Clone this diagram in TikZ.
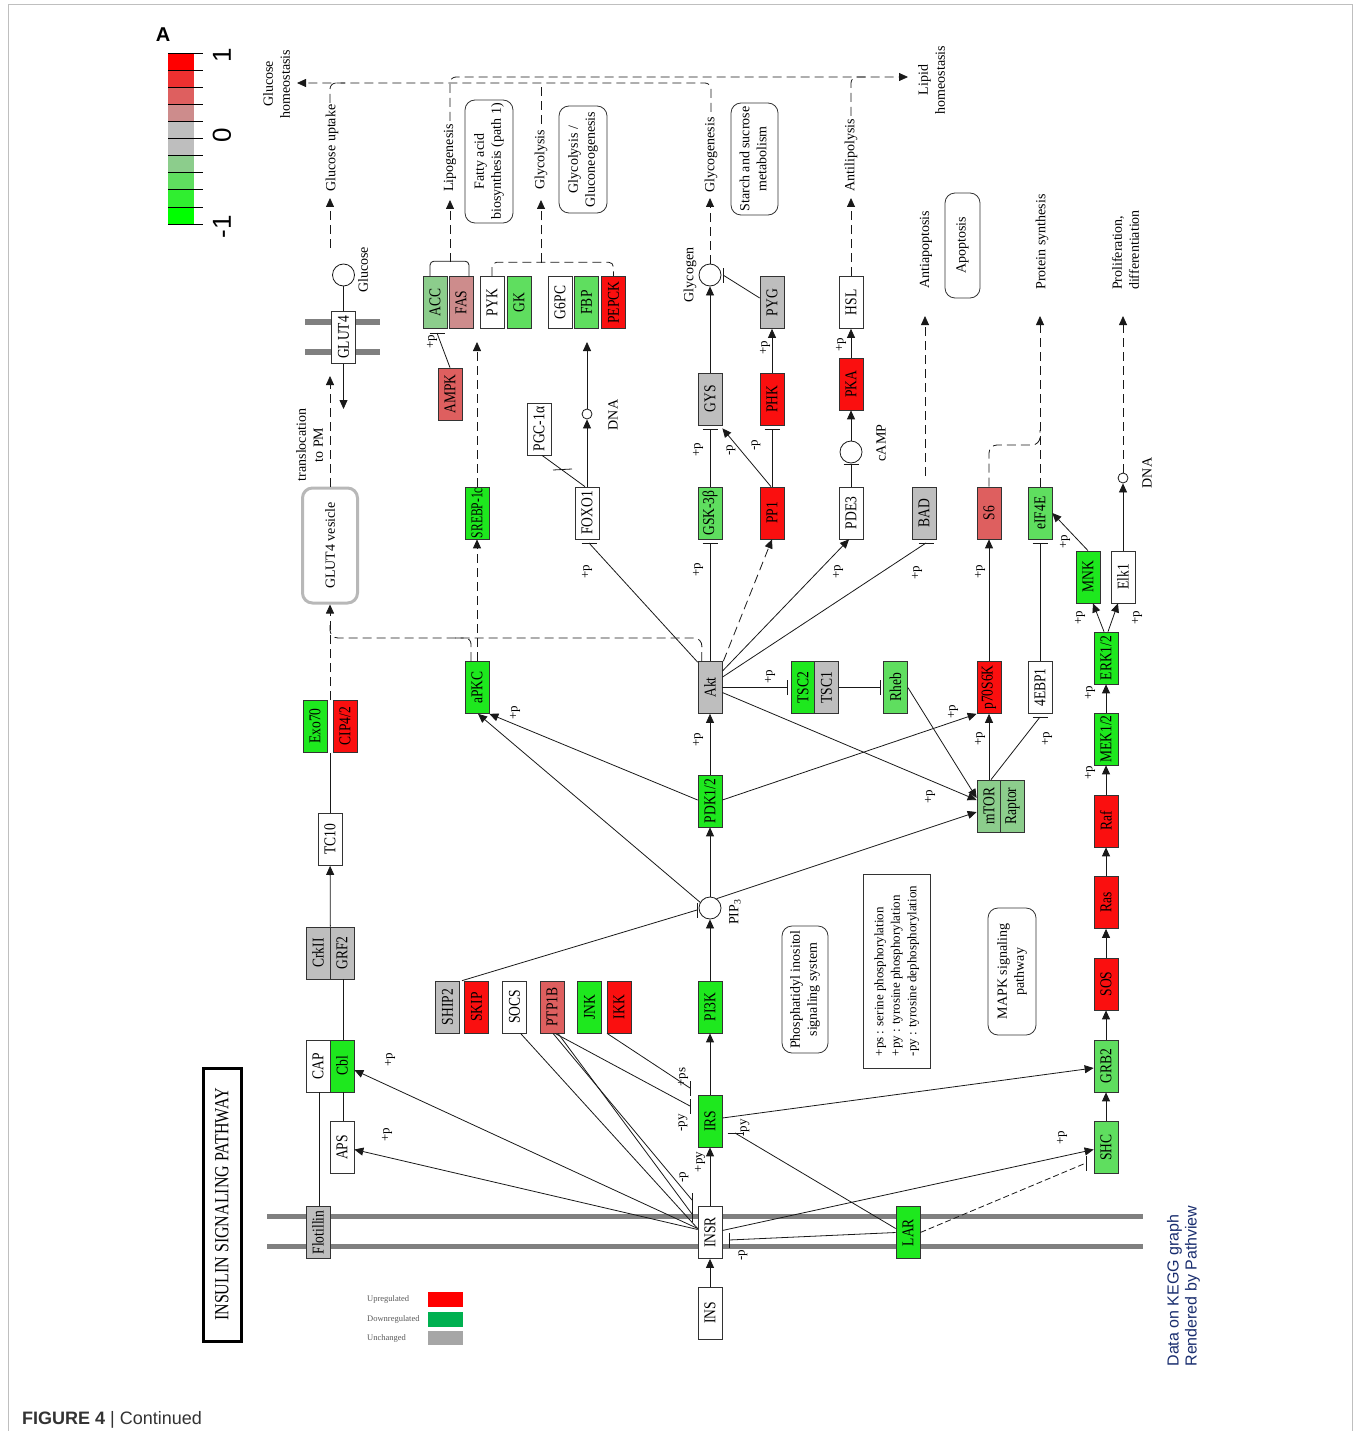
\documentclass[tikz,border=0pt]{standalone}
\usepackage{fontspec}
\usepackage{graphicx}
\setmainfont{Liberation Serif}
\newfontfamily\sansf{Liberation Sans}
\usetikzlibrary{arrows.meta,calc}
\definecolor{cR}{RGB}{250,15,15}
\definecolor{cPR}{RGB}{222,95,95}
\definecolor{cLP}{RGB}{205,140,140}
\definecolor{cGy}{RGB}{190,190,190}
\definecolor{cG}{RGB}{30,232,30}
\definecolor{cMG}{RGB}{95,222,95}
\definecolor{cLG}{RGB}{140,205,140}
\definecolor{cb0}{RGB}{255,0,0}
\definecolor{cb1}{RGB}{238,48,48}
\definecolor{cb2}{RGB}{222,95,95}
\definecolor{cb3}{RGB}{205,140,140}
\definecolor{cb4}{RGB}{190,190,190}
\definecolor{cb5}{RGB}{190,190,190}
\definecolor{cb6}{RGB}{140,205,140}
\definecolor{cb7}{RGB}{95,222,95}
\definecolor{cb8}{RGB}{48,238,48}
\definecolor{cb9}{RGB}{0,255,0}
\definecolor{lgR}{RGB}{255,0,0}
\definecolor{lgG}{RGB}{0,176,80}
\definecolor{lgY}{RGB}{166,166,166}
\definecolor{kblue}{RGB}{25,45,110}
\newcommand\rotT[1]{\rotatebox{90}{#1}}
\newcommand\bt[1]{\rotatebox{90}{\scalebox{0.82}[1]{#1}}}
\newcommand\rotC[1]{\rotatebox{90}{\begin{tabular}{@{}c@{}}#1\end{tabular}}}
\newcommand\rotL[1]{\rotatebox{90}{\begin{tabular}{@{}l@{}}#1\end{tabular}}}
\newcommand\bxf{\fontsize{16.5}{16.5}\selectfont}
\newcommand\lbf{\fontsize{14}{17}\selectfont}
\newcommand\ppf{\fontsize{13}{13}\selectfont}
\newcommand\tbarH[1]{\draw[ln] ([xshift=-7.5pt]#1) -- ([xshift=7.5pt]#1);}
\newcommand\tbarV[1]{\draw[ln] ([yshift=-7.5pt]#1) -- ([yshift=7.5pt]#1);}
\begin{document}
\begin{tikzpicture}[x=1pt,y=-1pt,
  gb/.style={draw=black!80, line width=0.7pt, minimum width=24pt, minimum height=52pt, inner sep=0pt, font=\bxf},
  ln/.style={line width=0.8pt, draw=black!90},
  act/.style={ln, -{Triangle[length=9pt,width=8pt]}},
  dsh/.style={dash pattern=on 9pt off 5pt},
  cir/.style={draw=black!90, line width=0.8pt, circle, minimum size=22pt, inner sep=0pt},
  dnac/.style={draw=black!90, line width=0.8pt, circle, minimum size=10pt, inner sep=0pt},
  lb/.style={inner sep=0pt, font=\lbf},
  pp/.style={inner sep=0pt, font=\ppf},
  rb/.style={draw=black!80, line width=0.8pt, rounded corners=10pt, inner sep=0pt, font=\lbf},
  memb/.style={line width=6pt, draw=black!50},
]
\useasboundingbox (0,0) rectangle (1356,1431);
\draw[black!25, line width=1pt] (8,1431) -- (8,5) -- (1352,5) -- (1352,1431);

% ---------- colour bar ----------
\foreach \c [count=\i from 0] in {cb0,cb1,cb2,cb3,cb4,cb5,cb6,cb7,cb8,cb9}
  \fill[\c] (168,{53+17.1*\i}) rectangle (194,{70.1+17.1*\i});
\foreach \i in {0,...,10} \draw[line width=0.6pt] (168,{53+17.1*\i}) -- (203,{53+17.1*\i});
\node[inner sep=0pt, font=\sansf\bfseries\fontsize{20}{20}\selectfont] (lblA) at (163,35) {A};
\node[inner sep=0pt, font=\sansf\fontsize{26}{26}\selectfont] (cbone) at (222,55) {\rotT{1}};
\node[inner sep=0pt, font=\sansf\fontsize{26}{26}\selectfont] (cbzero) at (222,135) {\rotT{0}};
\node[inner sep=0pt, font=\sansf\fontsize{26}{26}\selectfont] (cbmone) at (222,227) {\rotT{-1}};

% ---------- membranes ----------
\draw[memb] (305,322) -- (380,322);
\draw[memb] (305,352) -- (380,352);
\draw[memb, line width=5pt] (267,1216) -- (1143,1216);
\draw[memb, line width=5pt] (267,1246) -- (1143,1246);

% ---------- gene boxes ----------
\node[gb,fill=cLG] (acc) at (435,302.5) {\bt{ACC}};
\node[gb,fill=cLP] (fas) at (461,302.5) {\bt{FAS}};
\node[gb,fill=white] (pyk) at (492,302.5) {\bt{PYK}};
\node[gb,fill=cMG] (gk) at (519,302.5) {\bt{GK}};
\node[gb,fill=white] (g6pc) at (560,302.5) {\bt{G6PC}};
\node[gb,fill=cMG] (fbp) at (586.5,302.5) {\bt{FBP}};
\node[gb,fill=cR] (pepck) at (613.5,302.5) {\bt{PEPCK}};
\node[gb,fill=cGy] (pyg) at (772,302.5) {\bt{PYG}};
\node[gb,fill=white] (hsl) at (851,302.5) {\bt{HSL}};
\node[gb,fill=white] (glut4) at (343.5,337.5) {\bt{GLUT4}};
\node[gb,fill=cGy] (gys) at (710,399) {\bt{GYS}};
\node[gb,fill=cR] (phk) at (772,399) {\bt{PHK}};
\node[gb,fill=cPR] (ampk) at (450,394) {\bt{AMPK}};
\node[gb,fill=cR] (pka) at (851,384) {\bt{PKA}};
\node[gb,fill=white] (pgc) at (539,429) {\bt{PGC-1α}};
\node[gb,fill=cG] (srebp) at (477,513) {\rotatebox{90}{\scalebox{0.7}[1]{SREBP-1c}}};
\node[gb,fill=white] (foxo1) at (587,513) {\bt{FOXO1}};
\node[gb,fill=cMG] (gsk) at (710,513) {\bt{GSK-3β}};
\node[gb,fill=cR] (pp1) at (772,513) {\bt{PP1}};
\node[gb,fill=white] (pde3) at (851,513) {\bt{PDE3}};
\node[gb,fill=cGy] (bad) at (924,513) {\bt{BAD}};
\node[gb,fill=cPR] (s6) at (989,513) {\bt{S6}};
\node[gb,fill=cMG] (eif4e) at (1040,513) {\bt{eIF4E}};
\node[gb,fill=cG] (mnk) at (1088,577) {\bt{MNK}};
\node[gb,fill=white] (elk1) at (1123,577) {\bt{Elk1}};
\node[gb,fill=cG] (erk) at (1106,658) {\bt{ERK1/2}};
\node[gb,fill=cG] (apkc) at (477,687.5) {\bt{aPKC}};
\node[gb,fill=cGy] (akt) at (710,687.5) {\bt{Akt}};
\node[gb,fill=cG] (tsc2) at (803,687.5) {\bt{TSC2}};
\node[gb,fill=cGy] (tsc1) at (826.5,687.5) {\bt{TSC1}};
\node[gb,fill=cMG] (rheb) at (895.5,687.5) {\bt{Rheb}};
\node[gb,fill=cR] (p70) at (989,687.5) {\bt{p70S6K}};
\node[gb,fill=white] (ebp) at (1040,687.5) {\bt{4EBP1}};
\node[gb,fill=cG] (exo70) at (315,726) {\bt{Exo70}};
\node[gb,fill=cR] (cip) at (345,726) {\bt{CIP4/2}};
\node[gb,fill=cG] (mek) at (1106,739) {\bt{MEK1/2}};
\node[gb,fill=cG] (pdk) at (710,801) {\bt{PDK1/2}};
\node[gb,fill=cLG] (mtor) at (989,806) {\bt{mTOR}};
\node[gb,fill=cLG] (raptor) at (1012.5,806) {\bt{Raptor}};
\node[gb,fill=cR] (raf) at (1106,821) {\bt{Raf}};
\node[gb,fill=white] (tc10) at (330,839.5) {\bt{TC10}};
\node[gb,fill=cR] (ras) at (1106,902.5) {\bt{Ras}};
\node[gb,fill=cGy] (crk) at (318,953) {\bt{CrkII}};
\node[gb,fill=cGy] (grf2) at (342,953) {\bt{GRF2}};
\node[gb,fill=cR] (sos) at (1106,984) {\bt{SOS}};
\node[gb,fill=cGy] (ship2) at (447.5,1007) {\bt{SHIP2}};
\node[gb,fill=cR] (skip) at (476.5,1007) {\bt{SKIP}};
\node[gb,fill=white] (socs) at (514.5,1007) {\bt{SOCS}};
\node[gb,fill=cPR] (ptp) at (552,1007) {\bt{PTP1B}};
\node[gb,fill=cG] (jnk) at (589.5,1007) {\bt{JNK}};
\node[gb,fill=cR] (ikk) at (619,1007) {\bt{IKK}};
\node[gb,fill=cG] (pi3k) at (710,1007) {\bt{PI3K}};
\node[gb,fill=white] (cap) at (318,1066) {\bt{CAP}};
\node[gb,fill=cG] (cbl) at (342,1066) {\bt{Cbl}};
\node[gb,fill=cMG] (grb2) at (1106,1066) {\bt{GRB2}};
\node[gb,fill=cG] (irs) at (710,1121) {\bt{IRS}};
\node[gb,fill=white] (aps) at (342,1147.5) {\bt{APS}};
\node[gb,fill=cMG] (shc) at (1106,1147.5) {\bt{SHC}};
\node[gb,fill=cGy] (flot) at (318,1232.5) {\bt{Flotillin}};
\node[gb,fill=white] (insr) at (710,1232.5) {\bt{INSR}};
\node[gb,fill=cG] (lar) at (908,1232.5) {\bt{LAR}};
\node[gb,fill=white] (ins) at (710,1313) {\bt{INS}};

% ---------- compounds ----------
\node[cir] (glucose) at (343.5,275) {};
\node[cir] (glycogen) at (710,275) {};
\node[cir] (camp) at (851,452) {};
\node[cir] (pip3) at (710,908) {};
\node[dnac] (dna1) at (587,414) {};
\node[dnac] (dna2) at (1123,478) {};

% ---------- map / info boxes ----------
\node[rb, minimum width=48pt, minimum height=123pt] (fab) at (489,161.5) {\rotC{Fatty acid\\biosynthesis (path 1)}};
\node[rb, minimum width=48pt, minimum height=107pt] (glyb) at (583,159.5) {\rotC{Glycolysis /\\Gluconeogenesis}};
\node[rb, minimum width=47pt, minimum height=112pt] (starch) at (754.5,159) {\rotC{Starch and sucrose\\metabolism}};
\node[rb, minimum width=35pt, minimum height=105pt] (apop) at (962.5,245.5) {\rotT{Apoptosis}};
\node[rb, minimum width=46pt, minimum height=127pt] (pis) at (805,989.5) {\rotC{Phosphatidyl inositol\\signaling system}};
\node[rb, minimum width=48pt, minimum height=127pt] (mapk) at (1012,971.5) {\rotC{MAPK signaling\\pathway}};
\node[draw=black!80, line width=0.8pt, inner sep=0pt, minimum width=67pt, minimum height=194pt, font=\fontsize{13}{16.5}\selectfont] (key) at (896.5,971) {\rotL{+ps : serine phosphorylation\\+py : tyrosine phosphorylation\\-py : tyrosine dephosphorylation}};
\node[draw=black, line width=3pt, inner sep=0pt, minimum width=38pt, minimum height=273pt, font=\fontsize{20}{20}\selectfont] (title) at (222,1204.5) {\rotatebox{90}{\scalebox{0.8}[1]{INSULIN SIGNALING PATHWAY}}};
\node[draw=black!28, line width=3pt, rounded corners=10pt, minimum width=55pt, minimum height=115pt, inner sep=0pt, font=\lbf] (ves) at (330,545.5) {\rotT{GLUT4 vesicle}};

% ---------- text labels ----------
\node[lb] (lGH) at (278,84) {\rotC{Glucose\\homeostasis}};
\node[lb] (lGupt) at (332,148) {\rotT{Glucose uptake}};
\node[lb] (lLipo) at (450,158) {\rotT{Lipogenesis}};
\node[lb] (lGlyco) at (541,160) {\rotT{Glycolysis}};
\node[lb] (lGlcg) at (711,155) {\rotT{Glycogenesis}};
\node[lb] (lAnti) at (851,155) {\rotT{Antilipolysis}};
\node[lb] (lLipid) at (933,80) {\rotC{Lipid\\homeostasis}};
\node[lb] (lGlucose) at (363,270) {\rotT{Glucose}};
\node[lb] (lGlycogen) at (690,275) {\rotT{Glycogen}};
\node[lb] (lcAMP) at (881,443) {\rotT{cAMP}};
\node[lb] (lDNAa) at (613,415) {\rotT{DNA}};
\node[lb] (lDNAb) at (1147,473) {\rotT{DNA}};
\node[lb] (lAntiap) at (926,250) {\rotT{Antiapoptosis}};
\node[lb] (lProt) at (1042,242) {\rotT{Protein synthesis}};
\node[lb] (lProl) at (1127,250) {\rotL{Proliferation,\\differentiation}};
\node[lb] (lTrans) at (311,445) {\rotC{translocation\\to PM}};
\node[lb] (lPIP) at (735,912) {\rotT{PIP\textsubscript{3}}};

% ---------- +p labels ----------
\node[pp] (q1) at (432,342) {\rotT{+p}};
\node[pp] (q2) at (515,713) {\rotT{+p}};
\node[pp] (q3) at (587,572) {\rotT{+p}};
\node[pp] (q4) at (698,570) {\rotT{+p}};
\node[pp] (q5) at (698,450) {\rotT{+p}};
\node[pp] (q6) at (731,450) {\rotT{-p}};
\node[pp] (q7) at (756,445) {\rotT{-p}};
\node[pp] (q8) at (838,572) {\rotT{+p}};
\node[pp] (q9) at (917,573) {\rotT{+p}};
\node[pp] (q10) at (770,677) {\rotT{+p}};
\node[pp] (q11) at (698,740) {\rotT{+p}};
\node[pp] (q12) at (765,348) {\rotT{+p}};
\node[pp] (q13) at (841,345) {\rotT{+p}};
\node[pp] (q14) at (980,572) {\rotT{+p}};
\node[pp] (q15) at (980,739) {\rotT{+p}};
\node[pp] (q16) at (953,712) {\rotT{+p}};
\node[pp] (q17) at (1047,739) {\rotT{+p}};
\node[pp] (q18) at (1065,542) {\rotT{+p}};
\node[pp] (q19) at (1080,618) {\rotT{+p}};
\node[pp] (q20) at (1137,618) {\rotT{+p}};
\node[pp] (q21) at (1090,693) {\rotT{+p}};
\node[pp] (q22) at (1090,773) {\rotT{+p}};
\node[pp] (q23) at (930,797) {\rotT{+p}};
\node[pp] (q24) at (390,1060) {\rotT{+p}};
\node[pp] (q25) at (387,1135) {\rotT{+p}};
\node[pp] (q26) at (1062,1138) {\rotT{+p}};
\node[pp] (q27) at (700,1162) {\rotT{+py}};
\node[pp] (q28) at (684,1177) {\rotT{-p}};
\node[pp] (q29) at (683,1123) {\rotT{-py}};
\node[pp] (q30) at (683,1077) {\rotT{+ps}};
\node[pp] (q31) at (745,1128) {\rotT{-py}};
\node[pp] (q32) at (743,1255) {\rotT{-p}};

% ---------- legend ----------
\node[anchor=west, inner sep=0pt, text=black!65, font=\fontsize{8.5}{9}\selectfont] (lgu) at (367,1299) {Upregulated};
\node[anchor=west, inner sep=0pt, text=black!65, font=\fontsize{8.5}{9}\selectfont] (lgd) at (367,1319) {Downregulated};
\node[anchor=west, inner sep=0pt, text=black!65, font=\fontsize{8.5}{9}\selectfont] (lgn) at (367,1338) {Unchanged};
\node[fill=lgR, minimum width=35pt, minimum height=15pt, inner sep=0pt] (lgr) at (445.5,1299.5) {};
\node[fill=lgG, minimum width=35pt, minimum height=15pt, inner sep=0pt] (lgg) at (445.5,1319.5) {};
\node[fill=lgY, minimum width=35pt, minimum height=14pt, inner sep=0pt] (lgy) at (445.5,1338) {};

\node[inner sep=0pt, font=\sansf\fontsize{16}{18}\selectfont, text=kblue] (keggtxt) at (1184,1286) {\rotL{Data on KEGG graph\\Rendered by Pathview}};
\node[anchor=base west, inner sep=0pt, font=\sansf\fontsize{18}{18}\selectfont, text=black!80] (caption) at (22,1424) {\textbf{FIGURE 4} | Continued};

% ---------- free ends ----------
\coordinate (ghTip) at (297,83);
\coordinate (lhTip) at (908,77);
\coordinate (gupS) at (330,248);
\coordinate (gupT) at (330,198);
\coordinate (lipT) at (450,200);
\coordinate (glyT) at (541,200);
\coordinate (glgT) at (710,198);
\coordinate (antT) at (851,198);
\coordinate (badS) at (925,476);
\coordinate (badT) at (925,316);
\coordinate (eifT) at (1040,316);
\coordinate (dnaT) at (1123,316);
\coordinate (accT) at (477,342);
\coordinate (fbpT) at (587,342);
\coordinate (glutD) at (343.5,409);
\coordinate (vesT) at (330,376);
\coordinate (exoT) at (330,700);
\coordinate (exoB) at (330,752.5);

% ---------- top output connectors ----------
\draw[act,dsh,rounded corners=6pt] (711,112) -- (711,83) -- (ghTip);
\draw[ln,dsh,rounded corners=6pt] (330,103) -- (330,83) -- (345,83);
\draw[act,dsh] (gupS) -- (gupT);
\draw[act,dsh,rounded corners=6pt] (450,121) -- (450,77) -- (lhTip);
\draw[ln,dsh,rounded corners=6pt] (851,116) -- (851,77) -- (870,77);
\draw[ln,dsh] (541,124) -- (541,83);
\draw[ln,rounded corners=4pt] ([xshift=-5pt]acc.north) -- ++(0,-15) -- ([xshift=8pt,yshift=15pt]fas.north) -- ([xshift=8pt]fas.north);
\draw[act,dsh] (450,262) -- (lipT);
\draw[ln,dsh,rounded corners=5pt] (pyk.north) -- ++(0,-14) -- ([yshift=14pt]pepck.north) -- (pepck.north);
\draw[act,dsh] (541,262.5) -- (glyT);
\draw[act,dsh] (glycogen) -- (glgT);
\draw[act,dsh] (hsl) -- (antT);
\draw[act,dsh] (badS) -- (badT);
\draw[act,dsh] (eif4e) -- (eifT);
\draw[ln,dsh,rounded corners=8pt] (s6) -- (989,445) -- (1040,445) -- (1040,430);
\draw[act,dsh] (dna2) -- (dnaT);

% ---------- GLUT4 part ----------
\draw[ln] (glucose) -- (glut4);
\draw[act] (glut4) -- (glutD);
\draw[act,dsh] (ves) -- (vesT);
\draw[act,dsh] (exoT) -- (ves);
\draw[ln,dsh,rounded corners=8pt] ([xshift=4pt]akt.north west) -- (702,638) -- (330,638) -- (330,622);
\draw[ln,dsh,rounded corners=6pt] ([xshift=-6pt]apkc.north) -- (471,638) -- (455,638);
\draw[ln] (tc10) -- (exoB);
\draw[act] (crk.north east) -- (tc10);
\draw[ln] ([xshift=1pt]cbl.north) -- ([xshift=1pt]grf2.south);
\draw[ln] ([xshift=1pt]cap.south) -- ([xshift=1pt]flot.north);
\draw[ln] ([xshift=1pt]cbl.south) -- ([xshift=1pt]aps.north);

% ---------- lipid / glucose metabolism ----------
\draw[act,dsh] (apkc) -- (srebp);
\draw[act,dsh] (srebp) -- (accT);
\coordinate (tbA) at (437,333);
\draw[ln] (ampk.north) -- (tbA); \tbarH{tbA}
\draw[act] (foxo1) -- (dna1);
\draw[act] (dna1) -- (fbpT);
\draw[ln] ([xshift=3pt]pgc.south) -- ([xshift=-2pt]foxo1.north);
\coordinate (pgcA) at (553,470); \coordinate (pgcB) at (572,469);
\draw[ln] (pgcA) -- (pgcB);

% ---------- Akt targets ----------
\coordinate (tbF) at (589,543);
\draw[ln] ([yshift=-1pt]akt.north west) -- (tbF); \tbarH{tbF}
\coordinate (tbG) at (710,543);
\draw[ln] (akt) -- (tbG); \tbarH{tbG}
\draw[act,dsh] ([xshift=1pt]akt.north east) -- (pp1.south);
\draw[act] ([yshift=-10pt]akt.north east) -- ([xshift=-2pt]pde3.south);
\coordinate (tbB) at (926,543);
\draw[ln] ([yshift=-16pt]akt.north east) -- (tbB); \tbarH{tbB}
\coordinate (tbT) at (787,687.5);
\draw[ln] (akt) -- (tbT); \tbarV{tbT}
\coordinate (tbRh) at (880,687.5);
\draw[ln] (tsc1) -- (tbRh); \tbarV{tbRh}
\draw[act] ([yshift=-5pt]akt.east) -- ([yshift=6pt]mtor.west);
\draw[act] (rheb.east) -- ([yshift=8pt]mtor.west);

\coordinate (tbGy) at (710,429);
\draw[ln] (gsk) -- (tbGy); \tbarH{tbGy}
\coordinate (tbPh) at (772,429);
\draw[ln] (pp1) -- (tbPh); \tbarH{tbPh}
\draw[act] ([xshift=-1pt]pp1.north) -- ([yshift=-3pt]gys.south east);
\draw[act] (gys) -- (glycogen);
\draw[act] (phk) -- (pyg);
\coordinate (tbGl) at (723,275);
\draw[ln] (pyg.160) -- (tbGl); \tbarV{tbGl}
\coordinate (tbC) at (851,464);
\draw[ln] (pde3) -- (tbC); \tbarH{tbC}
\draw[act] (camp) -- (pka);
\draw[act] (pka) -- (hsl);

% ---------- mTOR branch ----------
\draw[act] (mtor) -- (p70);
\draw[act] (p70) -- (s6);
\coordinate (tbE) at (1040,717);
\draw[ln] ([xshift=2pt]mtor.north) -- (tbE); \tbarH{tbE}
\coordinate (tbEi) at (1040,543);
\draw[ln] (ebp) -- (tbEi); \tbarH{tbEi}

% ---------- MAPK branch ----------
\draw[act] (shc) -- (grb2);
\draw[act] (grb2) -- (sos);
\draw[act] (sos) -- (ras);
\draw[act] (ras) -- (raf);
\draw[act] (raf) -- (mek);
\draw[act] (mek) -- (erk);
\draw[act] ([xshift=-2pt]erk.north) -- ([xshift=5pt]mnk.south);
\draw[act] ([xshift=2pt]erk.north) -- ([xshift=-5pt]elk1.south);
\draw[act] (mnk.north) -- (eif4e.east);
\draw[act] (elk1) -- (dna2);

% ---------- core chain ----------
\draw[act] (ins) -- (insr);
\draw[act] (insr) -- (irs);
\draw[act] (irs) -- (pi3k);
\draw[act] (pi3k) -- (pip3);
\draw[act] (pip3) -- (pdk);
\draw[act] (pdk) -- (akt);
\draw[act] (pip3.150) -- ([xshift=1pt]apkc.south);
\draw[act] ([yshift=1pt]pdk.west) -- (apkc.south east);
\draw[act] (pip3.55) -- ([yshift=-6pt]mtor.west);
\draw[act] ([yshift=1pt]pdk.east) -- (p70.south west);
\coordinate (tbP) at (697,910);
\draw[ln] ($(ship2.north east)!0.5!(skip.north west)$) -- (tbP); \tbarV{tbP}

% ---------- receptor level ----------
\draw[act] ([yshift=4pt]insr.west) -- ([yshift=-4pt]cbl.east);
\draw[act] ([yshift=3pt]insr.west) -- ([yshift=-2pt]aps.east);
\draw[ln] ([xshift=6pt]socs.south) -- ([yshift=4pt]insr.west);
\coordinate (tbI1) at (692,1200);
\draw[ln] ([xshift=1pt]ptp.south) -- (tbI1); \tbarV{tbI1}
\coordinate (tbI2) at (692,1214);
\draw[ln] ([xshift=6pt]ptp.south) -- (tbI2); \tbarV{tbI2}
\coordinate (tbR1) at (690,1106);
\draw[ln] ([xshift=3pt]ptp.south) -- (tbR1); \tbarV{tbR1}
\coordinate (tbR2) at (690,1088);
\draw[ln] ([xshift=-12pt]ikk.south) -- (tbR2); \tbarV{tbR2}
\coordinate (tbR3) at (735,1133);
\draw[ln] ([yshift=4pt]lar.west) -- (tbR3); \tbarH{tbR3}
\coordinate (tbR4) at (729,1240);
\draw[ln] (lar.west) -- (tbR4); \tbarV{tbR4}
\draw[act] ([yshift=2pt]insr.east) -- ([yshift=-2pt]shc.west);
\coordinate (tbS) at (1086,1163);
\draw[ln,dash pattern=on 6pt off 3pt] (lar.east) -- (tbS); \tbarV{tbS}
\draw[act] ([yshift=3pt]irs.east) -- ([yshift=-2pt]grb2.west);
\end{tikzpicture}
\end{document}
